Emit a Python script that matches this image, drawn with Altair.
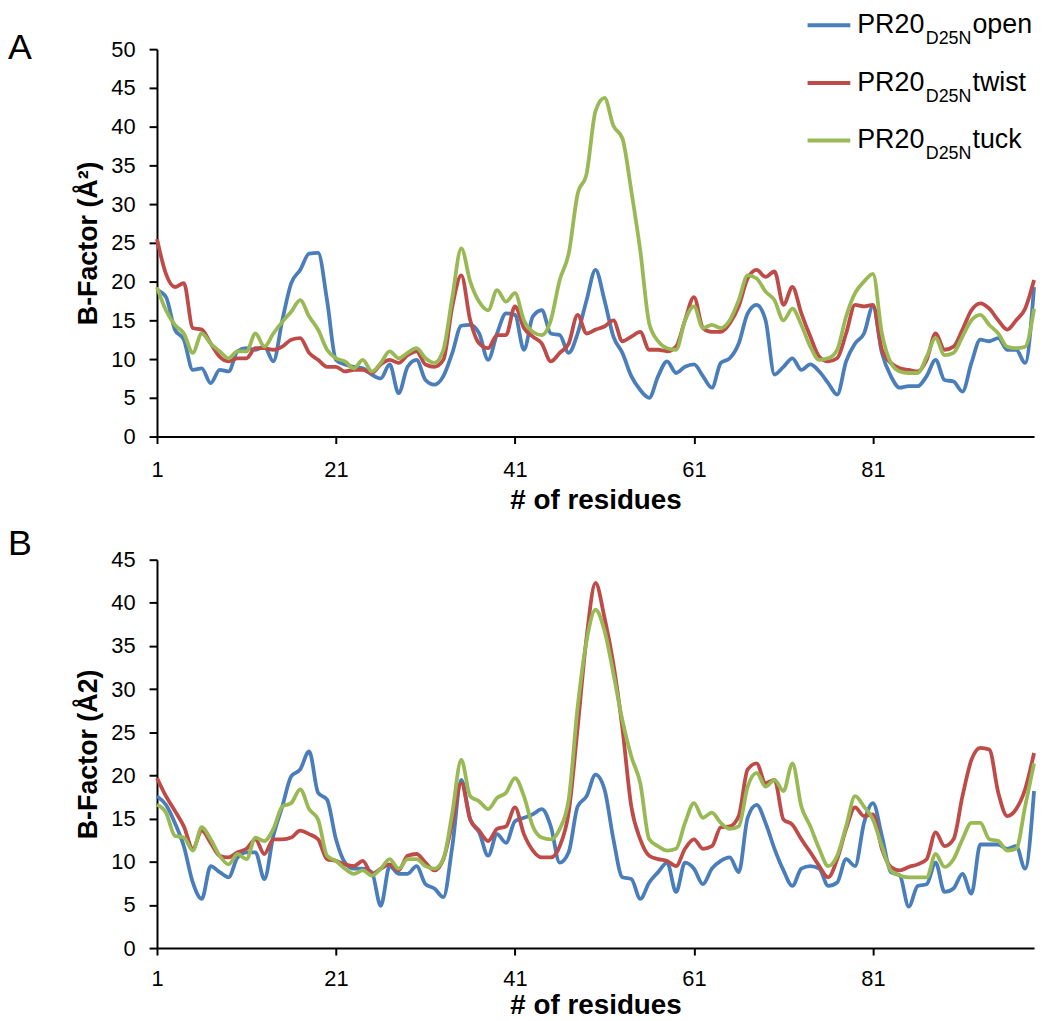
import altair as alt
import pandas as pd

RESIDUES = list(range(1, 100))
SERIES = ["open", "twist", "tuck"]
COLORS = ["#4A7EBB", "#BE4B48", "#98B954"]
X_TICKS = [1, 21, 41, 61, 81]

A_OPEN = [18.9, 18.0, 13.8, 12.5, 8.6, 8.8, 6.9, 8.6, 8.4, 11.0,
          11.4, 11.2, 11.6, 9.7, 15.0, 19.8, 21.5, 23.6, 23.7, 17.6,
          9.9, 9.3, 9.0, 8.8, 8.0, 7.5, 9.3, 5.6, 9.0, 9.9,
          7.3, 6.7, 7.8, 10.8, 14.3, 14.4, 13.3, 9.9, 13.3, 15.9,
          15.7, 11.2, 15.5, 16.3, 13.3, 13.1, 10.8, 13.3, 17.6, 21.5,
          17.6, 12.9, 10.8, 7.8, 6.0, 5.0, 7.8, 9.7, 8.2, 9.0,
          9.3, 7.8, 6.3, 9.5, 10.1, 12.0, 15.9, 17.0, 15.0, 8.0,
          9.0, 10.1, 8.6, 9.3, 8.4, 6.9, 5.4, 9.7, 12.0, 13.3,
          16.8, 10.8, 7.8, 6.3, 6.5, 6.5, 7.8, 9.9, 7.3, 7.1,
          5.8, 9.5, 12.5, 12.3, 12.7, 11.2, 11.2, 9.5, 19.3]
A_TWIST = [25.5, 21.0, 19.3, 19.8, 14.0, 13.8, 12.0, 10.3, 9.7, 10.1,
           10.1, 11.4, 11.4, 11.2, 11.6, 12.5, 12.7, 10.8, 9.9, 9.0,
           9.0, 8.4, 8.6, 8.6, 8.2, 9.3, 9.9, 9.5, 10.5, 11.0,
           9.3, 9.0, 9.9, 16.8, 20.8, 15.0, 12.0, 11.4, 13.1, 13.1,
           16.8, 14.0, 12.9, 12.0, 9.7, 10.8, 12.0, 15.7, 13.3, 13.8,
           14.2, 15.0, 12.3, 12.9, 13.5, 11.2, 11.2, 11.0, 11.6, 15.0,
           18.0, 14.0, 13.5, 13.5, 14.6, 16.8, 20.4, 21.5, 20.6, 21.3,
           17.0, 19.3, 15.9, 12.9, 10.3, 9.7, 10.1, 13.3, 17.0, 16.8,
           17.0, 11.2, 9.5, 8.8, 8.6, 8.4, 9.9, 13.3, 11.2, 11.6,
           13.8, 16.3, 17.2, 16.5, 15.0, 13.8, 15.0, 16.5, 20.2]
A_TUCK = [19.3, 16.3, 14.4, 13.3, 10.8, 13.3, 12.0, 11.0, 10.1, 11.0,
          11.0, 13.3, 11.6, 13.3, 14.8, 16.1, 17.6, 15.5, 13.8, 11.2,
          10.1, 9.7, 8.8, 9.9, 8.4, 9.5, 11.0, 10.1, 10.8, 11.4,
          10.1, 9.5, 11.2, 18.0, 24.3, 20.0, 17.4, 16.3, 18.9, 17.4,
          18.5, 15.0, 13.5, 13.1, 15.0, 20.2, 23.6, 31.3, 33.9, 42.0,
          43.7, 40.1, 38.5, 31.7, 24.0, 14.6, 12.3, 11.4, 11.2, 15.0,
          16.8, 14.0, 14.4, 14.0, 15.0, 17.6, 20.8, 20.4, 18.7, 17.6,
          15.0, 16.5, 14.4, 11.6, 9.9, 10.1, 11.2, 15.5, 18.5, 20.0,
          21.0, 13.3, 9.5, 8.4, 8.2, 8.2, 10.3, 12.7, 10.5, 10.8,
          12.9, 15.0, 15.7, 14.4, 13.3, 11.6, 11.4, 11.6, 16.5]

B_OPEN = [17.6, 16.6, 14.5, 11.8, 7.6, 5.7, 9.5, 8.8, 8.2, 10.5,
          11.1, 11.1, 8.0, 13.0, 16.4, 19.9, 20.7, 22.8, 18.0, 17.2,
          12.6, 9.9, 9.2, 9.2, 8.8, 4.9, 9.5, 8.6, 8.6, 9.5,
          7.4, 6.9, 5.9, 11.8, 19.5, 14.9, 13.4, 10.7, 13.2, 12.2,
          14.7, 15.1, 15.5, 16.1, 14.1, 9.9, 11.1, 16.4, 17.6, 20.1,
          18.4, 12.6, 8.2, 8.0, 5.7, 7.6, 8.8, 9.9, 6.5, 9.9,
          9.2, 7.4, 9.2, 10.1, 10.5, 8.8, 15.1, 16.6, 14.5, 11.5,
          9.0, 7.2, 9.2, 9.5, 9.2, 7.2, 7.6, 10.3, 9.5, 14.5,
          16.8, 13.0, 8.8, 8.4, 4.8, 7.2, 7.4, 9.9, 6.5, 6.9,
          8.6, 6.3, 12.0, 12.0, 12.0, 11.5, 11.8, 9.2, 18.2]
B_TWIST = [19.7, 17.6, 15.9, 14.1, 11.5, 13.6, 12.2, 10.7, 10.5, 11.1,
           11.5, 12.6, 10.9, 12.6, 12.6, 12.8, 13.6, 13.2, 12.6, 10.3,
           10.1, 9.7, 9.5, 10.1, 8.6, 9.2, 9.7, 9.0, 10.7, 10.9,
           9.9, 9.0, 10.3, 14.5, 19.1, 14.9, 13.6, 12.4, 13.8, 14.1,
           16.3, 13.2, 11.3, 10.5, 10.5, 11.8, 15.7, 25.5, 36.0, 42.3,
           38.3, 32.9, 25.5, 16.4, 12.6, 10.7, 10.3, 10.1, 9.5, 11.5,
           12.6, 11.5, 11.8, 14.0, 14.1, 15.3, 20.7, 21.4, 19.1, 19.5,
           14.9, 14.3, 12.6, 11.1, 9.5, 8.2, 10.3, 13.8, 16.3, 15.3,
           15.5, 11.5, 9.4, 9.0, 9.4, 9.7, 10.3, 13.4, 11.8, 12.6,
           17.6, 21.8, 23.2, 23.0, 18.0, 15.3, 16.1, 18.4, 22.6]
B_TUCK = [16.6, 15.7, 13.0, 12.8, 11.3, 14.0, 12.6, 10.7, 9.7, 10.9,
          10.3, 12.8, 12.4, 13.8, 16.4, 16.8, 18.4, 16.1, 14.9, 10.7,
          10.1, 9.2, 8.6, 9.0, 8.4, 9.2, 10.3, 9.2, 10.3, 10.3,
          9.5, 9.2, 10.3, 15.7, 21.8, 17.6, 17.0, 16.1, 17.4, 18.0,
          19.7, 17.6, 14.1, 12.8, 12.6, 13.8, 17.2, 27.9, 35.6, 39.2,
          36.8, 31.8, 26.4, 22.2, 19.1, 12.6, 11.8, 11.3, 11.5, 14.5,
          16.8, 15.1, 15.7, 14.5, 13.8, 14.1, 18.7, 20.3, 18.7, 19.5,
          18.2, 21.4, 16.4, 14.1, 11.5, 9.5, 10.7, 14.1, 17.6, 16.4,
          14.9, 11.8, 9.0, 8.4, 8.2, 8.2, 8.2, 10.9, 9.4, 10.3,
          12.6, 14.5, 14.5, 12.6, 12.4, 11.3, 11.5, 16.4, 21.4]

FONT = "Liberation Sans"


def long_df(series_lists):
    rows = []
    for name, vals in zip(SERIES, series_lists):
        for r, v in zip(RESIDUES, vals):
            rows.append({"residue": r, "bfactor": v, "series": name,
                         "order": SERIES.index(name)})
    return pd.DataFrame(rows)


color_scale = alt.Scale(domain=SERIES, range=COLORS)


def panel(df, ymax, ytitle, letter, with_legend, label_pad, title_pad):
    lines = alt.Chart(df).mark_line(
        interpolate="monotone", strokeWidth=3.8
    ).encode(
        x=alt.X("residue:Q",
                scale=alt.Scale(domain=[1, 99], nice=False, zero=False),
                axis=alt.Axis(values=X_TICKS, title="# of residues",
                              tickSize=7, labelPadding=label_pad,
                              titlePadding=title_pad,
                              labelFlush=False, grid=False,
                              titleFontSize=28)),
        y=alt.Y("bfactor:Q",
                scale=alt.Scale(domain=[0, ymax], nice=False),
                axis=alt.Axis(values=list(range(0, ymax + 1, 5)), title=ytitle,
                              tickSize=8, labelPadding=14, titlePadding=8,
                              grid=False)),
        color=alt.Color("series:N", scale=color_scale, legend=None),
        detail="order:Q",
    )

    letter_mark = alt.Chart(alt.Data(values=[{"t": letter}])).mark_text(
        align="left", baseline="alphabetic", fontSize=36, font=FONT, color="black"
    ).encode(
        x=alt.value(-150),
        y=alt.value(10 if letter == "A" else -5),
        text="t:N",
    )

    layers = [lines]
    if with_legend:
        leg = alt.Chart(pd.DataFrame({"series": SERIES,
                                      "suffix": SERIES,
                                      "row": [0, 1, 2]})).transform_calculate(
            ly="-24 + 58*datum.row",
            ty="-24 + 58*datum.row + 8",
            sy="-24 + 58*datum.row + 19",
            main="'PR20'",
            sub="'D25N'",
        )
        rule = leg.mark_rule(strokeWidth=4).encode(
            x=alt.value(655), x2=alt.value(698),
            y=alt.Y("ly:Q", scale=None, axis=None),
            color=alt.Color("series:N", scale=color_scale, legend=None),
        )
        t_main = leg.mark_text(align="left", baseline="alphabetic",
                               fontSize=27, font=FONT, color="black").encode(
            x=alt.value(705), y=alt.Y("ty:Q", scale=None, axis=None),
            text="main:N")
        t_sub = leg.mark_text(align="left", baseline="alphabetic",
                              fontSize=18, font=FONT, color="black").encode(
            x=alt.value(774), y=alt.Y("sy:Q", scale=None, axis=None),
            text="sub:N")
        t_suf = leg.mark_text(align="left", baseline="alphabetic",
                              fontSize=27, font=FONT, color="black").encode(
            x=alt.value(821), y=alt.Y("ty:Q", scale=None, axis=None),
            text="suffix:N")
        layers += [rule, t_main, t_sub, t_suf]
    layers.append(letter_mark)
    return alt.layer(*layers).resolve_scale(y="independent").properties(
        width=883, height=390 if letter == "A" else 391)


chart_a = panel(long_df([A_OPEN, A_TWIST, A_TUCK]), 50, "B-Factor (Å²)", "A",
                True, 16, 6)
chart_b = panel(long_df([B_OPEN, B_TWIST, B_TUCK]), 45, "B-Factor (Å2)", "B",
                False, 14, 2)

chart = alt.vconcat(chart_a, chart_b, spacing=12).properties(
    padding={"left": 0, "top": 0, "right": 0, "bottom": 0},
    background="white",
).configure_view(stroke=None).configure_axis(
    domainColor="black", domainWidth=2, tickColor="black", tickWidth=2,
    labelFont=FONT, labelFontSize=22, labelColor="black",
    titleFont=FONT, titleFontSize=27, titleFontWeight="bold", titleColor="black",
)

chart.save("out.html", embed_options={"renderer": "svg", "actions": False})
